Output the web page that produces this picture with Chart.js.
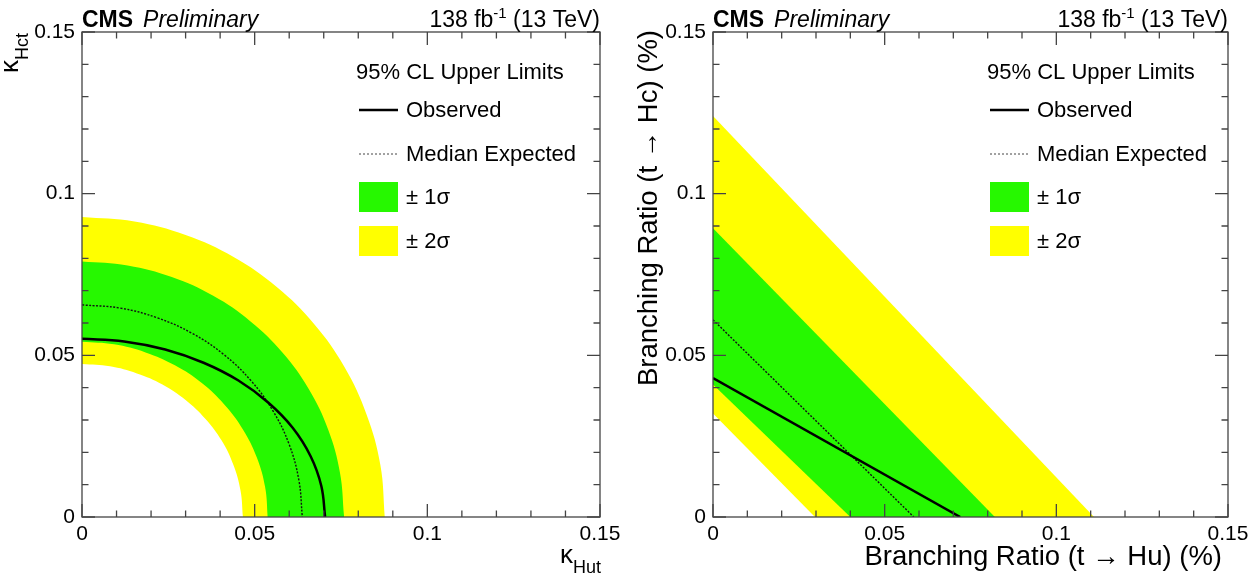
<!DOCTYPE html>
<html>
<head>
<meta charset="utf-8">
<script src="https://cdn.jsdelivr.net/npm/chart.js@4.4.0/dist/chart.umd.min.js"></script>
<style>
  html, body { margin: 0; padding: 0; background: #fff; }
  .panel { position: absolute; top: 0; height: 577px; }
</style>
</head>
<body>
<div class="panel" style="left:0;width:627px"><canvas id="kappaChart" width="627" height="577"></canvas></div>
<div class="panel" style="left:627px;width:628px"><canvas id="brChart" width="628" height="577"></canvas></div>
<script>
// Left panel: kappa plane, contours read along each arc from the y axis down to the x axis
const kObsX = [0, 0.0122, 0.0241, 0.0352, 0.0453, 0.0539, 0.0610, 0.0662, 0.0693, 0.0704];
const kObsY = [0.0551, 0.0543, 0.0518, 0.0477, 0.0422, 0.0354, 0.0276, 0.0188, 0.0096, 0];
const kExpX = [0, 0.0111, 0.0218, 0.0319, 0.0410, 0.0489, 0.0553, 0.0600, 0.0628, 0.0638];
const kExpY = [0.0656, 0.0646, 0.0616, 0.0568, 0.0503, 0.0422, 0.0328, 0.0224, 0.0114, 0];
const kYellowOutX = [0, 0.0152, 0.0300, 0.0439, 0.0564, 0.0672, 0.0760, 0.0824, 0.0864, 0.0877];
const kYellowOutY = [0.0928, 0.0914, 0.0872, 0.0804, 0.0711, 0.0597, 0.0464, 0.0317, 0.0161, 0];
const kGreenOutX = [0, 0.0132, 0.0260, 0.0380, 0.0488, 0.0581, 0.0657, 0.0713, 0.0747, 0.0759];
const kGreenOutY = [0.0790, 0.0778, 0.0742, 0.0684, 0.0605, 0.0508, 0.0395, 0.0270, 0.0137, 0];
const kGreenInX = [0, 0.0093, 0.0184, 0.0269, 0.0346, 0.0412, 0.0466, 0.0506, 0.0530, 0.0538];
const kGreenInY = [0.0542, 0.0534, 0.0509, 0.0469, 0.0415, 0.0348, 0.0271, 0.0185, 0.0094, 0];
const kYellowInX = [0, 0.0081, 0.0159, 0.0233, 0.0300, 0.0357, 0.0404, 0.0438, 0.0459, 0.0466];
const kYellowInY = [0.0473, 0.0466, 0.0444, 0.0410, 0.0362, 0.0304, 0.0237, 0.0162, 0.0082, 0];

// Right panel: branching ratio plane (%), straight lines between the axis intercepts
const brObsX = [0, 0.0720];
const brObsY = [0.0430, 0];
const brExpX = [0, 0.0585];
const brExpY = [0.0610, 0];
const brYellowOutX = [0, 0.1110];
const brYellowOutY = [0.1240, 0];
const brGreenOutX = [0, 0.0821];
const brGreenOutY = [0.0893, 0];
const brGreenInX = [0, 0.0400];
const brGreenInY = [0.0410, 0];
const brYellowInX = [0, 0.0297];
const brYellowInY = [0.0320, 0];

const axisMin = 0;
const axisMax = 0.15;
const majorStep = 0.05;
const minorStep = 0.01;

const legendHeader = '95% CL Upper Limits';
const legendLabels = ['Observed', 'Median Expected', '\u00b1 1\u03c3', '\u00b1 2\u03c3'];

const GREEN = '#26f800';
const YELLOW = '#ffff00';
const FONT = "'Liberation Sans', Arial, Helvetica, sans-serif";

function pts(xs, ys) {
  return xs.map((x, i) => ({ x: x, y: ys[i] }));
}

function band(xs, ys, color, order, tension) {
  return { data: pts(xs, ys), borderWidth: 0, borderColor: color, backgroundColor: color,
           fill: 'origin', pointRadius: 0, tension: tension, order: order };
}

function buildDatasets(d, tension) {
  return [
    { data: pts(d.obsX, d.obsY), borderColor: '#000', borderWidth: 2.5, fill: false,
      pointRadius: 0, tension: tension, order: 1 },
    { data: pts(d.expX, d.expY), borderColor: '#111', borderWidth: 1.4, borderDash: [2, 1.5],
      fill: false, pointRadius: 0, tension: tension, order: 2 },
    band(d.yInX, d.yInY, '#ffffff', 3, tension),
    band(d.gInX, d.gInY, YELLOW, 4, tension),
    band(d.gOutX, d.gOutY, GREEN, 5, tension),
    band(d.yOutX, d.yOutY, YELLOW, 6, tension)
  ];
}

function tickLabel(v) {
  return String(Math.round(v * 100) / 100);
}

// frame, ROOT style inside ticks, header and legend
function decorPlugin(drawTitles) {
  return {
    id: 'decor',
    afterDatasetsDraw(chart) {
      const ctx = chart.ctx, ca = chart.chartArea;
      const xs = chart.scales.x, ys = chart.scales.y;
      ctx.save();
      ctx.strokeStyle = '#444';
      ctx.lineWidth = 1.3;
      ctx.strokeRect(ca.left, ca.top, ca.right - ca.left, ca.bottom - ca.top);
      ctx.beginPath();
      for (let i = 0; i <= Math.round((axisMax - axisMin) / minorStep); i++) {
        const v = axisMin + i * minorStep;
        const len = (i % Math.round(majorStep / minorStep) === 0) ? 13 : 6.5;
        const px = xs.getPixelForValue(v), py = ys.getPixelForValue(v);
        ctx.moveTo(px, ca.bottom); ctx.lineTo(px, ca.bottom - len);
        ctx.moveTo(px, ca.top); ctx.lineTo(px, ca.top + len);
        ctx.moveTo(ca.left, py); ctx.lineTo(ca.left + len, py);
        ctx.moveTo(ca.right, py); ctx.lineTo(ca.right - len, py);
      }
      ctx.stroke();
      ctx.restore();
    },
    afterDraw(chart) {
      const ctx = chart.ctx, ca = chart.chartArea;
      ctx.save();
      ctx.fillStyle = '#000';
      ctx.textBaseline = 'alphabetic';
      // CMS Preliminary
      ctx.textAlign = 'left';
      ctx.font = 'bold 23px ' + FONT;
      ctx.fillText('CMS', ca.left, 27);
      const wCms = ctx.measureText('CMS').width;
      ctx.font = 'italic 23px ' + FONT;
      ctx.fillText('Preliminary', ca.left + wCms + 10, 27);
      // luminosity
      ctx.font = '23px ' + FONT;
      const tail = ' (13 TeV)';
      const wTail = ctx.measureText(tail).width;
      ctx.textAlign = 'right';
      ctx.fillText(tail, ca.right, 27);
      ctx.font = '15px ' + FONT;
      const wSup = ctx.measureText('-1').width;
      ctx.fillText('-1', ca.right - wTail, 18);
      ctx.font = '23px ' + FONT;
      ctx.fillText('138 fb', ca.right - wTail - wSup, 27);

      // legend
      const lx = ca.left + 274, sx = ca.left + 277, tx = ca.left + 324;
      ctx.textAlign = 'left';
      ctx.textBaseline = 'middle';
      ctx.font = '22px ' + FONT;
      ctx.fillText(legendHeader, lx, 73);
      ctx.fillText(legendLabels[0], tx, 111);
      ctx.fillText(legendLabels[1], tx, 155);
      ctx.fillText(legendLabels[2], tx, 198);
      ctx.fillText(legendLabels[3], tx, 242);
      ctx.strokeStyle = '#000';
      ctx.lineWidth = 2.5;
      ctx.beginPath(); ctx.moveTo(sx, 110); ctx.lineTo(sx + 39, 110); ctx.stroke();
      ctx.strokeStyle = '#444';
      ctx.lineWidth = 1;
      ctx.setLineDash([2, 2]);
      ctx.beginPath(); ctx.moveTo(sx, 154); ctx.lineTo(sx + 39, 154); ctx.stroke();
      ctx.setLineDash([]);
      ctx.fillStyle = GREEN;
      ctx.fillRect(sx, 182, 39, 30);
      ctx.fillStyle = YELLOW;
      ctx.fillRect(sx, 226, 39, 30);
      ctx.fillStyle = '#000';

      drawTitles(ctx, ca);
      ctx.restore();
    }
  };
}

function kappaTitles(ctx, ca) {
  ctx.textBaseline = 'alphabetic';
  ctx.textAlign = 'right';
  // y title, rotated, aligned to the top end of the axis
  ctx.save();
  ctx.translate(18, 33);
  ctx.rotate(-Math.PI / 2);
  ctx.font = '18px ' + FONT;
  const wSub = ctx.measureText('Hct').width;
  ctx.fillText('Hct', 0, 10);
  ctx.font = '26px ' + FONT;
  ctx.fillText('\u03ba', -wSub, 0);
  ctx.restore();
  // x title
  ctx.font = '18px ' + FONT;
  const wSubX = ctx.measureText('Hut').width;
  ctx.fillText('Hut', ca.right + 1, 573);
  ctx.font = '26px ' + FONT;
  ctx.fillText('\u03ba', ca.right + 1 - wSubX, 563);
}

function brTitles(ctx, ca) {
  ctx.textBaseline = 'alphabetic';
  ctx.textAlign = 'right';
  ctx.font = '27.5px ' + FONT;
  ctx.save();
  ctx.translate(ca.left - 56, 30);
  ctx.rotate(-Math.PI / 2);
  ctx.fillText('Branching Ratio (t \u2192 Hc) (%)', 0, 0);
  ctx.restore();
  ctx.fillText('Branching Ratio (t \u2192 Hu) (%)', ca.right - 6, 565);
}

function makeChart(id, datasets, yAxisWidth, drawTitles) {
  return new Chart(document.getElementById(id), {
    type: 'line',
    data: { datasets: datasets },
    options: {
      responsive: false,
      animation: false,
      layout: { padding: { top: 32, right: 27, bottom: 0, left: 0 } },
      plugins: { legend: { display: false }, tooltip: { enabled: false } },
      scales: {
        x: {
          type: 'linear', min: axisMin, max: axisMax,
          grid: { display: false, drawTicks: false }, border: { display: false },
          ticks: { stepSize: majorStep, padding: 5, color: '#000', maxRotation: 0,
                   font: { family: FONT, size: 21 }, callback: tickLabel },
          afterFit(scale) { scale.height = 60; }
        },
        y: {
          type: 'linear', min: axisMin, max: axisMax,
          grid: { display: false, drawTicks: false }, border: { display: false },
          ticks: { stepSize: majorStep, padding: 7, color: '#000',
                   font: { family: FONT, size: 21 }, callback: tickLabel },
          afterFit(scale) { scale.width = yAxisWidth; }
        }
      }
    },
    plugins: [decorPlugin(drawTitles)]
  });
}

makeChart('kappaChart', buildDatasets({
  obsX: kObsX, obsY: kObsY, expX: kExpX, expY: kExpY,
  yOutX: kYellowOutX, yOutY: kYellowOutY, gOutX: kGreenOutX, gOutY: kGreenOutY,
  gInX: kGreenInX, gInY: kGreenInY, yInX: kYellowInX, yInY: kYellowInY
}, 0.4), 82, kappaTitles);

makeChart('brChart', buildDatasets({
  obsX: brObsX, obsY: brObsY, expX: brExpX, expY: brExpY,
  yOutX: brYellowOutX, yOutY: brYellowOutY, gOutX: brGreenOutX, gOutY: brGreenOutY,
  gInX: brGreenInX, gInY: brGreenInY, yInX: brYellowInX, yInY: brYellowInY
}, 0), 86, brTitles);
</script>
</body>
</html>
